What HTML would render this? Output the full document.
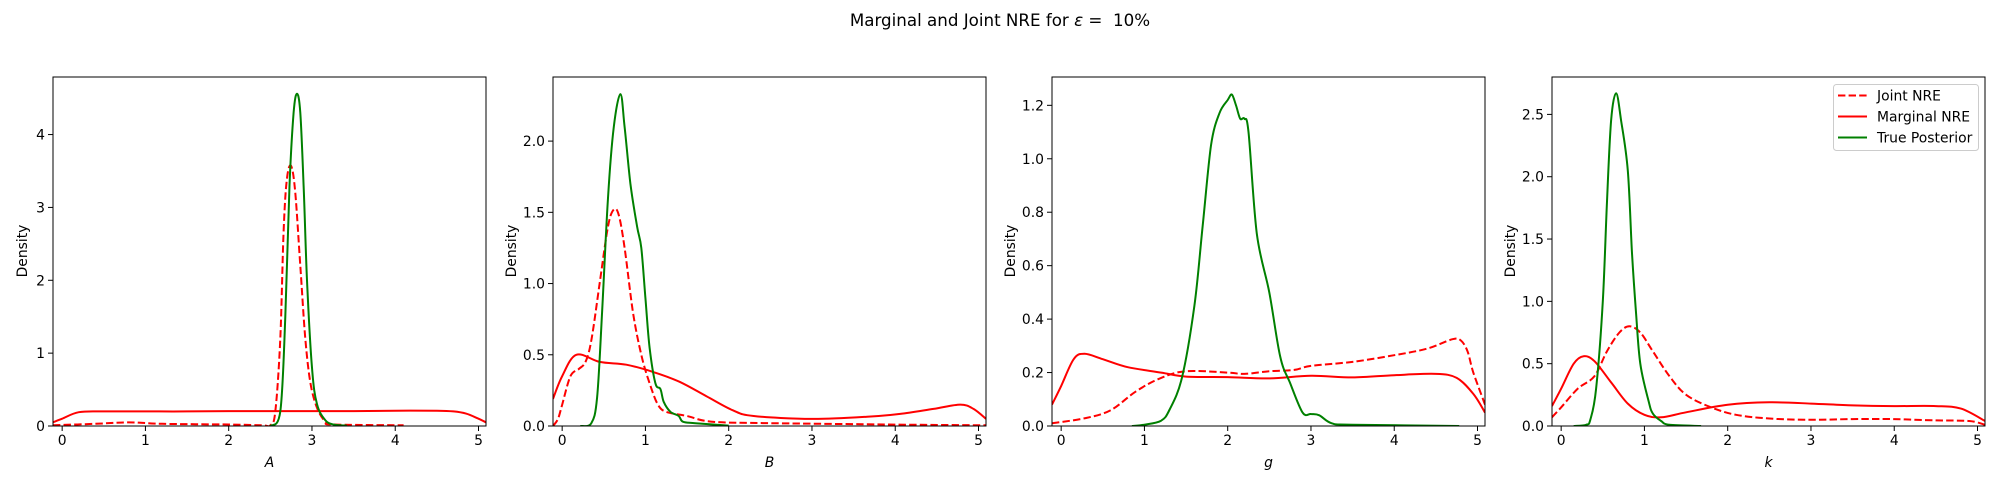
<!DOCTYPE html>
<html><head><meta charset="utf-8"><style>
body{margin:0;background:#fff;}
svg{display:block;font-family:"DejaVu Sans","Liberation Sans",sans-serif;}
</style></head><body>
<svg id="fig" width="2000" height="500" xmlns="http://www.w3.org/2000/svg">
<text x="1000" y="26" text-anchor="middle" font-size="16.7" xml:space="preserve">Marginal and Joint NRE for <tspan font-style="italic">ε</tspan> =  10%</text>
</svg>
<script>
// Panel A
const aMargX=[-0.11,0,0.2,0.5,1,1.5,2,2.5,3,3.5,4,4.5,4.7,4.85,5,5.09];
const aMargY=[0.05,0.1,0.19,0.2,0.2,0.2,0.205,0.205,0.205,0.205,0.21,0.21,0.2,0.17,0.1,0.05];
const aJointX=[-0.11,0.4,0.8,1.2,2,2.4,2.5,2.56,2.62,2.66,2.7,2.75,2.8,2.86,2.92,2.98,3.06,3.16,3.26,4.1];
const aJointY=[0.01,0.03,0.05,0.03,0.02,0.01,0.01,0.2,1.2,2.7,3.4,3.57,3.2,2.2,1.2,0.6,0.25,0.06,0.02,0.01];
const aTrueX=[2.5,2.62,2.68,2.73,2.78,2.82,2.86,2.9,2.94,3.0,3.06,3.16,3.26,3.42];
const aTrueY=[0,0.2,1.5,3.3,4.3,4.56,4.3,3.3,2.0,0.8,0.3,0.08,0.02,0.005];
// Panel B
const bMargX=[-0.11,0,0.17,0.45,0.77,1.09,1.41,1.73,2.05,2.3,3.0,3.66,4.06,4.46,4.78,4.94,5.09];
const bMargY=[0.19,0.35,0.5,0.45,0.43,0.38,0.31,0.21,0.11,0.07,0.05,0.065,0.085,0.12,0.15,0.12,0.05];
const bJointX=[-0.11,-0.05,0,0.1,0.2,0.28,0.35,0.45,0.55,0.62,0.68,0.75,0.85,0.95,1.05,1.15,1.25,1.5,1.8,2.5,4,5.09];
const bJointY=[0,0.05,0.15,0.35,0.4,0.45,0.6,1.0,1.4,1.52,1.48,1.25,0.8,0.5,0.3,0.15,0.1,0.07,0.03,0.02,0.01,0.005];
const bTrueX=[0.22,0.35,0.42,0.48,0.55,0.62,0.7,0.75,0.82,0.9,0.95,1.0,1.05,1.12,1.18,1.22,1.3,1.4,1.45,1.6,2.0];
const bTrueY=[0,0.02,0.2,0.8,1.6,2.1,2.33,2.1,1.7,1.4,1.25,0.9,0.55,0.3,0.26,0.17,0.1,0.07,0.03,0.02,0.003];
// Panel C
const cMargX=[-0.11,0,0.15,0.28,0.5,0.8,1.2,1.5,2,2.5,3,3.5,4,4.5,4.75,4.95,5.09];
const cMargY=[0.08,0.15,0.25,0.27,0.25,0.22,0.2,0.185,0.183,0.178,0.188,0.182,0.19,0.195,0.18,0.12,0.05];
const cJointX=[-0.11,0.3,0.6,0.9,1.2,1.5,2,2.2,2.5,2.8,3,3.5,4,4.4,4.7,4.8,4.88,4.95,5.09];
const cJointY=[0.01,0.03,0.06,0.13,0.18,0.205,0.2,0.195,0.205,0.21,0.225,0.24,0.265,0.29,0.325,0.32,0.28,0.2,0.08];
const cTrueX=[0.85,1.0,1.2,1.3,1.45,1.6,1.7,1.8,1.9,2.0,2.05,2.1,2.15,2.2,2.25,2.35,2.5,2.63,2.75,2.9,3.0,3.1,3.25,3.5,4.78];
const cTrueY=[0,0.005,0.02,0.06,0.18,0.45,0.75,1.05,1.17,1.22,1.24,1.2,1.15,1.15,1.1,0.72,0.5,0.26,0.16,0.05,0.045,0.04,0.01,0.005,0];
// Panel D
const dMargX=[-0.11,0,0.15,0.27,0.4,0.6,0.8,1.0,1.2,1.5,2,2.5,3,3.5,4,4.5,4.8,5.09];
const dMargY=[0.16,0.3,0.5,0.56,0.52,0.35,0.18,0.09,0.07,0.11,0.17,0.19,0.18,0.165,0.16,0.16,0.14,0.04];
const dJointX=[-0.11,0,0.2,0.4,0.55,0.7,0.82,0.95,1.1,1.3,1.5,1.8,2.1,2.5,3,3.5,4,4.5,4.9,5.09];
const dJointY=[0.07,0.15,0.3,0.4,0.6,0.75,0.8,0.75,0.6,0.4,0.25,0.15,0.09,0.06,0.05,0.055,0.055,0.045,0.04,0.01];
const dTrueX=[0.15,0.3,0.35,0.42,0.5,0.55,0.6,0.66,0.72,0.8,0.85,0.9,0.95,1.05,1.1,1.2,1.3,1.68];
const dTrueY=[0,0.01,0.05,0.3,1.0,1.8,2.45,2.67,2.45,2.05,1.4,0.9,0.5,0.2,0.1,0.04,0.01,0];
// Ticks
const xTicks=[0,1,2,3,4,5];
const aYTicks=["0","1","2","3","4"];
const bYTicks=["0.0","0.5","1.0","1.5","2.0"];
const cYTicks=["0.0","0.2","0.4","0.6","0.8","1.0","1.2"];
const dYTicks=["0.0","0.5","1.0","1.5","2.0","2.5"];
const xLabels=["A","B","g","k"];

const NS="http://www.w3.org/2000/svg";
const svg=document.getElementById('fig');
function mk(tag,attrs,parent){const e=document.createElementNS(NS,tag);for(const k in attrs)e.setAttribute(k,attrs[k]);(parent||svg).appendChild(e);return e;}
const TOP=77,BOT=426,W=433,XMIN=-0.11,XMAX=5.09;
const panels=[
 {left:53,ymax:4.79,ticks:aYTicks,series:[[aJointX,aJointY,'joint'],[aMargX,aMargY,'marginal'],[aTrueX,aTrueY,'true']]},
 {left:553,ymax:2.45,ticks:bYTicks,series:[[bJointX,bJointY,'joint'],[bMargX,bMargY,'marginal'],[bTrueX,bTrueY,'true']]},
 {left:1052,ymax:1.306,ticks:cYTicks,series:[[cJointX,cJointY,'joint'],[cMargX,cMargY,'marginal'],[cTrueX,cTrueY,'true']]},
 {left:1552,ymax:2.8,ticks:dYTicks,series:[[dJointX,dJointY,'joint'],[dMargX,dMargY,'marginal'],[dTrueX,dTrueY,'true']]}
];
function smooth(pts){
 let d='M'+pts[0][0].toFixed(1)+','+pts[0][1].toFixed(1);
 for(let i=0;i<pts.length-1;i++){
  const p0=pts[Math.max(i-1,0)],p1=pts[i],p2=pts[i+1],p3=pts[Math.min(i+2,pts.length-1)];
  const c1=[p1[0]+(p2[0]-p0[0])/6,p1[1]+(p2[1]-p0[1])/6];
  const c2=[p2[0]-(p3[0]-p1[0])/6,p2[1]-(p3[1]-p1[1])/6];
  d+=' C'+c1[0].toFixed(1)+','+c1[1].toFixed(1)+' '+c2[0].toFixed(1)+','+c2[1].toFixed(1)+' '+p2[0].toFixed(1)+','+p2[1].toFixed(1);
 }
 return d;
}
panels.forEach((p,pi)=>{
 const g=mk('g',{});
 
 
 const sx=v=>p.left+(v-XMIN)/(XMAX-XMIN)*W;
 const sy=v=>BOT-v/p.ymax*(BOT-TOP);
 const clip=mk('clipPath',{id:'clip'+pi},g);
 mk('rect',{x:p.left,y:TOP,width:W,height:BOT-TOP},clip);
 const cg=mk('g',{'clip-path':'url(#clip'+pi+')'},g);
 p.series.forEach(s=>{
  const pts=s[0].map((x,i)=>[sx(x),sy(s[1][i])]);
  const col=s[2]==='true'?'#008000':'#ff0000';
  const path=mk('path',{d:smooth(pts),fill:'none',stroke:col,'stroke-width':2,'stroke-linejoin':'round'},cg);
  if(s[2]==='joint')path.setAttribute('stroke-dasharray','7.4,3.2');
  
  
 });
 mk('rect',{x:p.left,y:TOP,width:W,height:BOT-TOP,fill:'none',stroke:'#000','stroke-width':1},g);
 xTicks.forEach(t=>{
  const x=sx(t);
  mk('line',{x1:x,x2:x,y1:BOT,y2:BOT+5,stroke:'#000'},g);
  const tx=mk('text',{x:x,y:BOT+19,'text-anchor':'middle','font-size':13.9},g);
  tx.textContent=t;
  
  
 });
 p.ticks.forEach(t=>{
  const y=sy(parseFloat(t));
  mk('line',{x1:p.left-5,x2:p.left,y1:y,y2:y,stroke:'#000'},g);
  const ty=mk('text',{x:p.left-8,y:y+5,'text-anchor':'end','font-size':13.9},g);
  ty.textContent=t;
  
  
 });
 const xl=mk('text',{x:p.left+W/2,y:467,'text-anchor':'middle','font-size':13.9,'font-style':'italic'},g);
 xl.textContent=xLabels[pi];
 
 
 const yx=p.left-(pi===0?26:37);
 const yl=mk('text',{x:yx,y:251,'text-anchor':'middle','font-size':13.9,transform:'rotate(-90 '+yx+' 251)'},g);
 yl.textContent='Density';
 
 
});
// Legend
const lg=mk('g',{});


mk('rect',{x:1833.5,y:84.5,width:145,height:66,rx:3,fill:'#fff','fill-opacity':0.8,stroke:'#ccc'},lg);
const legNames=['Joint NRE','Marginal NRE','True Posterior'];
const legCols=['#ff0000','#ff0000','#008000'];
legNames.forEach((n,i)=>{
 const y=95.5+i*21;
 const l=mk('line',{x1:1838,x2:1867,y1:y,y2:y,stroke:legCols[i],'stroke-width':2},lg);
 if(i===0)l.setAttribute('stroke-dasharray','7.4,3.2');
 const t=mk('text',{x:1877,y:y+5,'font-size':13.9},lg);
 t.textContent=n;
 
 
});
</script>
</body></html>
